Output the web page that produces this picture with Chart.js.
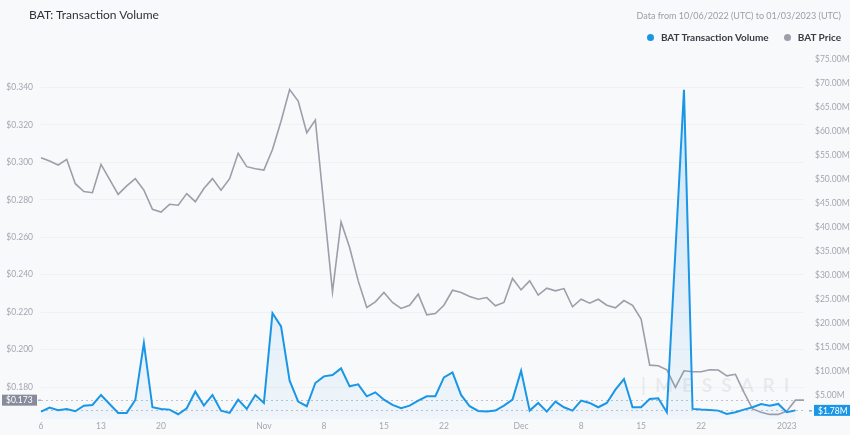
<!DOCTYPE html>
<html>
<head>
<meta charset="utf-8">
<script src="https://cdn.jsdelivr.net/npm/chart.js@4.4.0/dist/chart.umd.min.js"></script>
<style>
  html, body { margin: 0; padding: 0; background: #f8f9fb; }
  #wrap { position: relative; width: 850px; height: 435px; font-family: Lato, "Open Sans", sans-serif; overflow: hidden; }
  #title { position: absolute; left: 29px; top: 7px; font-size: 12px; color: #2f3238; }
  #range { position: absolute; right: 9px; top: 10px; font-size: 9px; color: #9a9ea6; }
  #legend { position: absolute; right: 9px; top: 31px; font-size: 10px; font-weight: 700; color: #3a3d45; white-space: nowrap; }
  #legend .dot { display: inline-block; width: 7px; height: 7px; border-radius: 50%; margin-right: 7px; vertical-align: 0px; }
  #watermark { position: absolute; left: 641px; top: 373px; font-size: 19px; font-weight: 700; letter-spacing: 9px; color: rgba(150, 155, 170, 0.17); }
  canvas { position: absolute; left: 0; top: 0; }
</style>
</head>
<body>
<div id="wrap">
  <div id="watermark">|MESSARI</div>
  <canvas id="chart" width="850" height="435"></canvas>
  <div id="title">BAT: Transaction Volume</div>
  <div id="range">Data from 10/06/2022 (UTC) to 01/03/2023 (UTC)</div>
  <div id="legend"><span class="dot" style="background:#1a96e6"></span>BAT Transaction Volume<span class="dot" style="background:#9d9ea9;margin-left:15px"></span>BAT Price</div>
</div>
<script>
// daily categories, 10/06/2022 .. 01/03/2023
var dates = [];
var start = Date.UTC(2022, 9, 6);
for (var d = 0; d < 90; d++) {
    dates.push(new Date(start + d * 86400000).toISOString().slice(0, 10));
}

var tickDates = ['2022-10-06', '2022-10-13', '2022-10-20', '2022-11-01', '2022-11-08', '2022-11-15',
    '2022-11-22', '2022-12-01', '2022-12-08', '2022-12-15', '2022-12-22', '2023-01-01'];
var tickLabels = ['6', '13', '20', 'Nov', '8', '15', '22', 'Dec', '8', '15', '22', '2023'];

var priceTicks = [0.18, 0.20, 0.22, 0.24, 0.26, 0.28, 0.30, 0.32, 0.34];
var volumeTicks = [5, 10, 15, 20, 25, 30, 35, 40, 45, 50, 55, 60, 65, 70, 75];

// BAT price (USD)
var price = [
    0.3025, 0.3007, 0.2986, 0.3016, 0.2886, 0.2844, 0.2838, 0.2989, 0.2909, 0.2829,
    0.2874, 0.2913, 0.2852, 0.2749, 0.2735, 0.2776, 0.2771, 0.2833, 0.2790, 0.2860,
    0.2913, 0.2851, 0.2913, 0.3048, 0.2977, 0.2966, 0.2959, 0.3069, 0.3220, 0.3389,
    0.3327, 0.3158, 0.3226, 0.2767, 0.2308, 0.2682, 0.2545, 0.2367, 0.2225, 0.2255,
    0.2305, 0.2252, 0.2220, 0.2237, 0.2296, 0.2186, 0.2193, 0.2237, 0.2317, 0.2305,
    0.2284, 0.2269, 0.2278, 0.2234, 0.2252, 0.2380, 0.2319, 0.2367, 0.2291, 0.2328,
    0.2314, 0.2326, 0.2229, 0.2269, 0.2248, 0.2269, 0.2237, 0.2223, 0.2262, 0.2237,
    0.2163, 0.1917, 0.1914, 0.1892, 0.1798, 0.1887, 0.1882, 0.1882, 0.1892, 0.1891,
    0.1860, 0.1868, 0.1772, 0.1683, 0.1665, 0.1654, 0.1654, 0.1672, 0.1730, 0.1730
];

// BAT transaction volume (USD millions)
var volume = [
    1.52, 2.35, 1.81, 2.08, 1.60, 2.77, 2.91, 5.00, 3.12, 1.25,
    1.25, 3.95, 15.8, 2.43, 2.08, 1.94, 0.98, 2.22, 5.69, 2.77,
    5.00, 1.73, 1.25, 4.02, 2.08, 5.00, 3.33, 22.06, 19.3, 7.98,
    3.61, 2.64, 7.49, 8.88, 9.16, 10.55, 6.80, 7.22, 4.72, 5.55,
    4.02, 2.91, 2.22, 2.77, 3.81, 4.72, 4.72, 8.67, 9.71, 5.00,
    2.64, 1.66, 1.52, 1.73, 2.77, 4.02, 10.05, 1.73, 3.33, 1.52,
    3.61, 2.43, 1.73, 3.81, 3.33, 2.43, 3.33, 6.10, 8.32, 2.43,
    2.43, 4.16, 4.30, 1.39, 35.0, 68.7, 2.08, 1.94, 1.87, 1.73,
    1.04, 1.39, 1.94, 2.43, 3.12, 2.77, 3.12, 1.39, 1.78
];

var blue = '#1a96e6';
var grey = '#9d9ea9';
var tickColor = '#a3a7b0';

// dotted guide lines and value boxes for the last values
var lastValuePlugin = {
    id: 'lastValue',
    beforeDatasetsDraw: function (chart) {
        var ctx = chart.ctx, area = chart.chartArea;
        var yP = chart.scales.yPrice.getPixelForValue(price[price.length - 1]);
        var yV = chart.scales.yVolume.getPixelForValue(volume[volume.length - 1]);
        ctx.save();
        ctx.setLineDash([2, 3]);
        ctx.lineWidth = 1;
        ctx.strokeStyle = 'rgba(140,150,170,0.55)';
        [yP, yV].forEach(function (y) {
            ctx.beginPath();
            ctx.moveTo(area.left, Math.round(y) + 0.5);
            ctx.lineTo(area.right, Math.round(y) + 0.5);
            ctx.stroke();
        });
        ctx.restore();
    },
    afterDraw: function (chart) {
        var ctx = chart.ctx, area = chart.chartArea;
        var yP = chart.scales.yPrice.getPixelForValue(price[price.length - 1]);
        var yV = chart.scales.yVolume.getPixelForValue(volume[volume.length - 1]);
        ctx.save();
        ctx.font = '8.5px Lato, sans-serif';
        ctx.textBaseline = 'middle';

        ctx.fillStyle = '#878b9c';
        ctx.fillRect(2, yP - 5.5, 35, 11);
        ctx.fillRect(38, yP - 0.5, 3, 1);
        ctx.fillStyle = '#ffffff';
        ctx.textAlign = 'left';
        ctx.fillText('$' + price[price.length - 1].toFixed(3), 6, yP + 0.5);

        ctx.fillStyle = blue;
        ctx.fillRect(area.right + 5, yV, 3, 1);
        ctx.fillRect(area.right + 5 + 4 + 1, yV - 5.5, 36, 11);
        ctx.fillStyle = '#ffffff';
        ctx.fillText('$' + volume[volume.length - 1].toFixed(2) + 'M', area.right + 14, yV + 0.5);
        ctx.restore();
    }
};

var ctx = document.getElementById('chart');

var chart = new Chart(ctx, {
    type: 'line',
    data: {
        labels: dates,
        datasets: [{
            label: 'BAT Transaction Volume',
            data: volume,
            yAxisID: 'yVolume',
            borderColor: blue,
            borderWidth: 2,
            pointRadius: 0,
            tension: 0,
            fill: 'start',
            backgroundColor: function (context) {
                var area = context.chart.chartArea;
                if (!area) return 'rgba(26,150,230,0.1)';
                var g = context.chart.ctx.createLinearGradient(0, area.top, 0, area.bottom);
                g.addColorStop(0, 'rgba(26,150,230,0.22)');
                g.addColorStop(1, 'rgba(26,150,230,0.04)');
                return g;
            }
        }, {
            label: 'BAT Price',
            data: price,
            yAxisID: 'yPrice',
            borderColor: grey,
            borderWidth: 1.6,
            pointRadius: 0,
            tension: 0,
            fill: false
        }]
    },
    options: {
        responsive: false,
        animation: false,
        layout: { padding: { top: 50, left: 0, right: 0, bottom: 0 } },
        plugins: {
            legend: { display: false },
            title: { display: false },
            tooltip: { enabled: false }
        },
        scales: {
            x: {
                type: 'category',
                offset: false,
                grid: { display: false, drawTicks: false },
                border: { display: false },
                ticks: {
                    autoSkip: false,
                    maxRotation: 0,
                    padding: 2,
                    color: tickColor,
                    font: { family: 'Lato', size: 8.5 },
                    callback: function (value, index) {
                        var k = tickDates.indexOf(dates[index]);
                        return k < 0 ? '' : tickLabels[k];
                    }
                },
                afterFit: function (scale) { scale.height = 15; }
            },
            yPrice: {
                position: 'left',
                min: 0.163,
                max: 0.360,
                afterBuildTicks: function (scale) {
                    scale.ticks = priceTicks.map(function (v) { return { value: v }; });
                },
                grid: { color: 'rgba(0,0,0,0.03)', drawTicks: false },
                border: { display: false },
                ticks: {
                    padding: 8,
                    color: tickColor,
                    font: { family: 'Lato', size: 8.5 },
                    callback: function (v) { return '$' + v.toFixed(3); }
                },
                afterFit: function (scale) { scale.width = 41; }
            },
            yVolume: {
                position: 'right',
                min: 0,
                max: 77,
                afterBuildTicks: function (scale) {
                    scale.ticks = volumeTicks.map(function (v) { return { value: v }; });
                },
                grid: { display: false, drawTicks: false },
                border: { display: false },
                ticks: {
                    padding: 11,
                    color: tickColor,
                    font: { family: 'Lato', size: 8.5 },
                    callback: function (v) { return '$' + v.toFixed(2) + 'M'; }
                },
                afterFit: function (scale) { scale.width = 46; }
            }
        }
    },
    plugins: [lastValuePlugin]
});
</script>
</body>
</html>
